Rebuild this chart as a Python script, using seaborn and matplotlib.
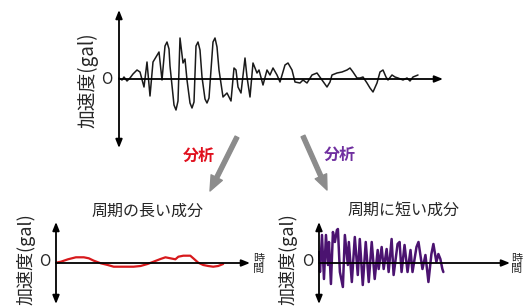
import matplotlib
matplotlib.use("Agg")
import matplotlib.pyplot as plt
import seaborn as sns

# original record (time in s, acceleration in arbitrary gal units)
raw_t = [0.0, 0.3, 0.5, 0.8, 1.1, 1.4, 1.8, 2.1, 2.5, 2.8, 3.1, 3.4, 4.0, 4.3, 4.6, 4.8, 5.0, 5.1,
         5.5, 5.7, 5.9, 6.1, 6.4, 6.6, 6.8, 7.1, 7.3, 7.5, 7.7, 7.9, 8.1, 8.3, 8.6, 8.8, 9.0,
         9.4, 9.6, 9.8, 10.0, 10.4, 10.8, 11.2, 11.5,
         11.7, 11.9, 12.2, 12.6, 12.8, 13.1, 13.4, 13.8, 14.0, 14.4, 14.8, 15.1, 15.4,
         15.8, 16.1, 16.6, 16.9, 17.3, 17.6, 18.1, 18.4, 18.8, 19.3, 19.8, 20.3, 20.8,
         21.1, 21.3, 21.8, 22.3, 22.8, 23.1, 23.4, 23.8, 24.1, 24.4, 24.8, 25.1, 25.4,
         25.8, 26.1, 26.4, 26.7, 26.9, 27.3, 27.6, 27.9, 28.4, 28.8, 29.1, 29.4, 29.9]
raw_a = [1, -1, 2, -2, 1, 5, 9, 7, -8, 17, -17, 17, 27, -1, 33, 37, 30, 13,
         -26, -31, -22, 41, 16, 20, -1, -24, -29, -23, 33, 37, 29, 2, -20, -24, -19,
         37, 41, 32, 9, -18, -14, -22, 11,
         9, -8, -14, 21, 2, -18, 16, 6, 9, -6, 9, 4, 11,
         4, -3, 14, 16, 9, -3, -4, -1, -4, 4, 6, -1, -8,
         -3, 4, 6, 7, 9, 11, 7, 1, 1, 2, -4, -9, -13,
         -4, 7, 9, 2, -1, 4, 2, 1, -1, 1, -2, 2, 4]

# long-period component
long_t = [0.0, 0.5, 1.2, 2.0, 2.8, 3.3, 3.8, 4.5, 5.2, 5.8, 6.8, 7.8, 8.5, 9.2, 9.8,
          10.5, 11.0, 11.5, 12.0, 12.3, 12.8, 13.5, 13.8, 14.3, 14.8, 15.3, 15.8, 16.3, 16.8]
long_a = [0.3, 1.3, 3.7, 5.7, 5.7, 4.7, 2.3, -0.3, -2, -3.7, -3.7, -3.7, -3, -1, 1.3,
          4, 5.7, 4.7, 3.7, 6.3, 7.3, 7.3, 4.7, 0.3, -2, -3, -3.7, -3, -1]

# short-period component
short_t = [0.0, 0.1, 0.3, 0.5, 0.7, 0.9, 1.0, 1.2, 1.4, 1.6, 1.8, 1.9, 2.1, 2.4, 2.6,
           2.9, 3.0, 3.3, 3.6, 3.9, 4.1, 4.4, 4.7, 5.0, 5.3, 5.6, 5.9, 6.0, 6.3, 6.5,
           6.8, 7.0, 7.3, 7.5, 7.9, 8.1, 8.3, 8.6, 8.9, 9.2, 9.4, 9.8, 10.0, 10.4, 10.7,
           11.0, 11.3, 11.5, 11.8, 12.0, 12.2, 12.4, 12.5]
short_a = [11, -9, 28, -16, 28, -2, 21, -21, 31, 21, 33, 34, -9, -24, 28,
           -2, 21, -19, 26, -12, 24, -22, 21, -19, 21, -16, 13, -6, 16, -6,
           14, -9, 24, -12, 19, 21, -9, 18, -9, 13, -9, 16, 21, -6, 8,
           -19, 9, 19, 1, 9, 4, -6, -9]

ylabel = "加速度(gal)"
titles = ["周期の長い成分", "周期に短い成分"]
arrow_text = "分析"

sns.set_style("white")
plt.rcParams["font.family"] = ["Noto Sans CJK JP", "DejaVu Sans"]

W, H = 524, 306
fig = plt.figure(figsize=(W / 100, H / 100), dpi=100)


def px(x, y):
    return x / W, 1 - y / H


def make_axes(x0, x1, y0, y1):
    l, t = px(x0, y0)
    r, b = px(x1, y1)
    return fig.add_axes([l, b, r - l, t - b])


def draw_axes(ax, xmax, ymax):
    ax.set_xlim(-0.1, xmax)
    ax.set_ylim(-ymax, ymax)
    ax.axis("off")
    ax.annotate("", xy=(0, ymax), xytext=(0, -ymax), xycoords="data",
                arrowprops=dict(arrowstyle="<|-|>,head_length=0.5,head_width=0.2",
                                color="black", lw=1.3, shrinkA=0, shrinkB=0),
                annotation_clip=False)
    ax.annotate("", xy=(xmax, 0), xytext=(0, 0), xycoords="data",
                arrowprops=dict(arrowstyle="-|>,head_length=0.5,head_width=0.2",
                                color="black", lw=1.3, shrinkA=0, shrinkB=0),
                annotation_clip=False)


# top: original record
ax0 = make_axes(118, 443, 10, 148)
draw_axes(ax0, 32.4, 69)
sns.lineplot(x=raw_t, y=raw_a, ax=ax0, color="#1a1a1a", linewidth=1.1, estimator=None)
fig.text(*px(88, 80), ylabel, rotation=90, ha="center", va="center", fontsize=13.5)
fig.text(*px(107, 79), "O", ha="center", va="center", fontsize=11)

# bottom left: long-period component
ax1 = make_axes(55, 250, 222, 304)
draw_axes(ax1, 19.5, 41)
sns.lineplot(x=long_t, y=long_a, ax=ax1, color="#d7191c", linewidth=1.6, estimator=None)
fig.text(*px(26, 259), ylabel, rotation=90, ha="center", va="center", fontsize=13)
fig.text(*px(45, 261), "O", ha="center", va="center", fontsize=11)
fig.text(*px(147, 211), titles[0], ha="center", va="center", fontsize=11.5)
fig.text(*px(259, 264), "時\n間", ha="center", va="center", fontsize=8, linespacing=1.0)

# bottom right: short-period component
ax2 = make_axes(318, 510, 222, 304)
draw_axes(ax2, 19.2, 41)
sns.lineplot(x=short_t, y=short_a, ax=ax2, color="#4b1370", linewidth=1.8, estimator=None)
fig.text(*px(288, 259), ylabel, rotation=90, ha="center", va="center", fontsize=13)
fig.text(*px(308, 261), "O", ha="center", va="center", fontsize=11)
fig.text(*px(403, 210), titles[1], ha="center", va="center", fontsize=11.5)
fig.text(*px(517, 264), "時\n間", ha="center", va="center", fontsize=8, linespacing=1.0)

# analysis arrows
for start, end in [((237, 137), (210, 191)), ((303, 136), (327, 190))]:
    fig.add_artist(plt.Annotation("", xy=px(*end), xytext=px(*start),
                                  xycoords="figure fraction", textcoords="figure fraction",
                                  arrowprops=dict(arrowstyle="simple,head_length=0.9,head_width=0.75,tail_width=0.25",
                                                  mutation_scale=12, color="#8c8c8c",
                                                  shrinkA=0, shrinkB=0)))
fig.text(*px(199, 156), arrow_text, ha="center", va="center", fontsize=11.5,
         fontweight="bold", color="#e0101e")
fig.text(*px(340, 155), arrow_text, ha="center", va="center", fontsize=11.5,
         fontweight="bold", color="#7030a0")

fig.savefig("out.png", dpi=100)
